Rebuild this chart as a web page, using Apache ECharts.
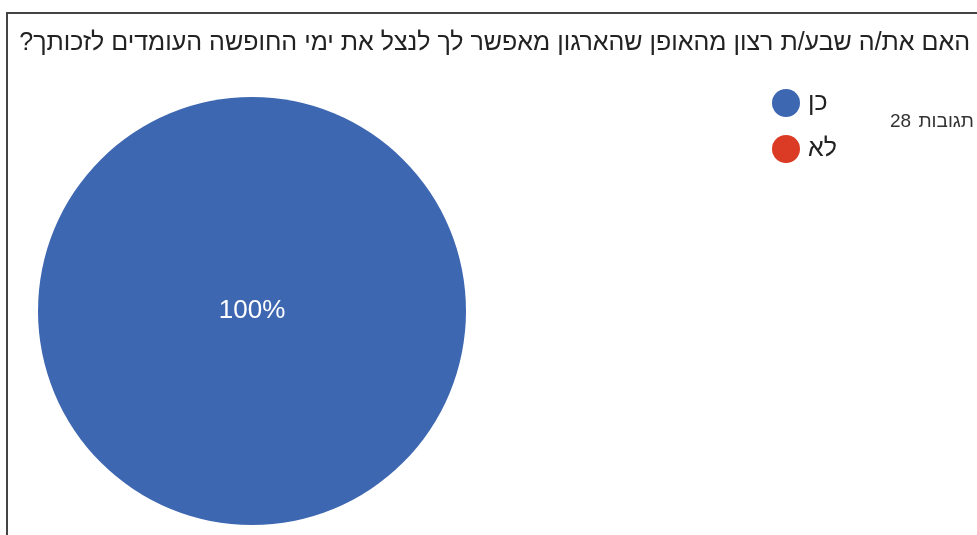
<!DOCTYPE html>
<html>
<head>
<meta charset="utf-8">
<script src="https://cdn.jsdelivr.net/npm/echarts@6/dist/echarts.min.js"></script>
<style>
  html, body { margin: 0; padding: 0; background: #fff; }
  #chart { width: 977px; height: 535px; }
</style>
</head>
<body>
<div id="chart"></div>
<script>
// Survey question and answers
const questionTitle = 'האם את/ה שבע/ת רצון מהאופן שהארגון מאפשר לך לנצל את ימי החופשה העומדים לזכותך?\u200F';
const answerLabels = ['כן', 'לא'];
const answerCounts = [28, 0];
const answerColors = ['#3e67b1', '#db3b25'];
const responsesWord = 'תגובות';

const FONT = 'Arial, "Liberation Sans", "DejaVu Sans", sans-serif';

const totalResponses = answerCounts.reduce((a, b) => a + b, 0);

const pieData = answerLabels.map((name, i) => ({
  name: name,
  value: answerCounts[i],
  itemStyle: { color: answerColors[i] },
  label: { show: answerCounts[i] > 0 }
}));

const chart = echarts.init(document.getElementById('chart'), null, { renderer: 'canvas' });

chart.setOption({
  animation: false,
  title: {
    text: questionTitle,
    right: 2,
    top: 26,
    textStyle: { fontFamily: FONT, fontSize: 25, fontWeight: 'normal', color: '#222' }
  },
  legend: {
    orient: 'vertical',
    left: 767,
    top: 84,
    icon: 'circle',
    itemWidth: 28,
    itemHeight: 28,
    itemGap: 18,
    selectedMode: false,
    textStyle: { fontFamily: FONT, fontSize: 25, color: '#222', padding: [0, 0, 0, 3] },
    data: answerLabels
  },
  graphic: [
    {
      type: 'polyline',
      shape: { points: [[7, 535], [7, 13], [977, 13]] },
      style: { stroke: '#444', lineWidth: 2, fill: null }
    },
    // response count: number on the left, word on the right
    {
      type: 'text',
      left: 890,
      top: 112,
      style: { text: String(totalResponses), font: '19px ' + FONT, fill: '#333' }
    },
    {
      type: 'text',
      right: 3,
      top: 112,
      style: { text: responsesWord, font: '19px ' + FONT, fill: '#333' }
    }
  ],
  series: [{
    type: 'pie',
    center: [252, 311],
    radius: 214,
    startAngle: 90,
    clockwise: true,
    avoidLabelOverlap: false,
    label: {
      position: 'center',
      formatter: p => Math.round(p.percent) + '%',
      color: '#fff',
      fontFamily: FONT,
      fontSize: 26
    },
    labelLine: { show: false },
    emphasis: { disabled: true },
    itemStyle: { borderWidth: 0 },
    data: pieData
  }]
});
</script>
</body>
</html>
